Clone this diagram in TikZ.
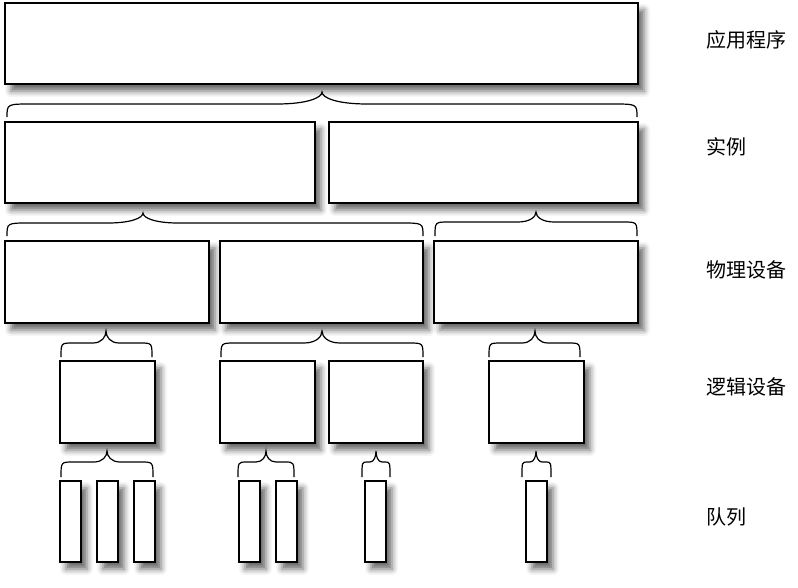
\documentclass[tikz,border=0pt]{standalone}
\usepackage{fontspec}
\newfontfamily\cjk{Noto Sans CJK SC}
\usetikzlibrary{shadows.blur}
\tikzset{
  box/.style={draw=black, line width=1.5pt, fill=white, inner sep=0pt,
    blur shadow={shadow xshift=6pt, shadow yshift=-7pt, shadow blur radius=6pt, shadow opacity=60}},
  bracestyle/.style={draw=black, line width=1.2pt},
  lbl/.style={anchor=west, inner sep=0pt, font=\cjk\fontsize{20}{24}\selectfont}
}
% L T R yt ym ye h g
\newcommand\cbrace[8]{%
  \draw[bracestyle] (#1,#6) .. controls (#1,#5) .. (#1+#7,#5) -- (#2-#8,#5)
    .. controls ({#2-0.35*#8},#5) and (#2,{(#4+#5)/2}) .. (#2,#4)
    .. controls (#2,{(#4+#5)/2}) and ({#2+0.35*#8},#5) .. (#2+#8,#5) -- (#3-#7,#5)
    .. controls (#3,#5) .. (#3,#6);}
\begin{document}
\begin{tikzpicture}[x=1pt,y=-1pt]
\useasboundingbox (0,0) rectangle (798,587);
% application
\node[box, minimum width=633pt, minimum height=81pt] (app) at (321.5,43.5) {};
% instances
\node[box, minimum width=310pt, minimum height=81pt] (instA) at (160,162.5) {};
\node[box, minimum width=309pt, minimum height=81pt] (instB) at (483.5,162.5) {};
% physical devices
\node[box, minimum width=204pt, minimum height=82pt] (phys1) at (107,282) {};
\node[box, minimum width=203pt, minimum height=82pt] (phys2) at (321.5,282) {};
\node[box, minimum width=204pt, minimum height=82pt] (phys3) at (536,282) {};
% logical devices
\node[box, minimum width=95pt, minimum height=82pt] (log1) at (107.5,402) {};
\node[box, minimum width=95pt, minimum height=82pt] (log2) at (267.5,402) {};
\node[box, minimum width=94pt, minimum height=82pt] (log3) at (376,402) {};
\node[box, minimum width=95pt, minimum height=82pt] (log4) at (536.5,402) {};
% queues
\foreach \n/\x in {q1/70.5, q2/107.5, q3/144.5, q4/249.5, q5/286.5, q6/375.5, q7/536.5}
  \node[box, line width=1.2pt, minimum width=21pt, minimum height=81pt] (\n) at (\x,521.5) {};
% braces
\cbrace{7}{322}{637}{92}{104}{117}{25}{45}
\cbrace{7}{143}{423}{213}{223}{236}{22}{35}
\cbrace{435}{536}{637}{212}{222}{236}{14}{18}
\cbrace{61}{106}{152}{331}{343}{357}{12}{13}
\cbrace{221}{322}{423}{331}{343}{357}{14}{18}
\cbrace{489}{535}{580}{331}{343}{357}{12}{13}
\cbrace{61}{107}{153}{451}{462}{477}{12}{13}
\cbrace{238}{266}{294}{451}{462}{477}{9}{10}
\cbrace{362}{376}{390}{451}{462}{477}{5}{6}
\cbrace{522}{536}{551}{451}{462}{477}{5}{6}
% labels
\node[lbl] (l1) at (706,40) {应用程序};
\node[lbl] (l2) at (706,147) {实例};
\node[lbl] (l3) at (706,270) {物理设备};
\node[lbl] (l4) at (706,387) {逻辑设备};
\node[lbl] (l5) at (706,517) {队列};
\end{tikzpicture}
\end{document}
